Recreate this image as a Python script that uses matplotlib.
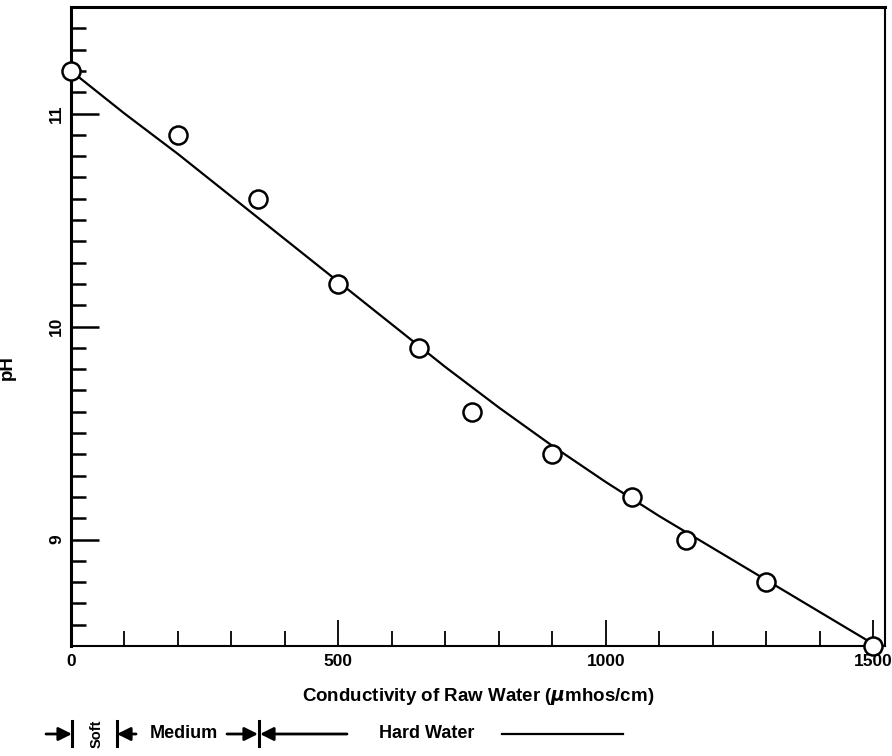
import matplotlib
matplotlib.use('Agg')
import matplotlib.pyplot as plt
import numpy as np

plt.rcParams['font.family'] = ['Liberation Sans', 'DejaVu Sans']
plt.rcParams['font.weight'] = 'bold'

# measured points: conductivity (umhos/cm) vs pH
cond = [0, 200, 350, 500, 650, 750, 900, 1050, 1150, 1300, 1500]
ph = [11.2, 10.9, 10.6, 10.2, 9.9, 9.6, 9.4, 9.2, 9.0, 8.8, 8.5]

# fitted curve
fit_cond = [0, 100, 200, 300, 400, 500, 600, 700, 800, 900, 1000, 1100, 1200, 1300, 1400, 1500]
fit_ph = [11.20, 11.00, 10.81, 10.61, 10.41, 10.21, 10.01, 9.81, 9.62, 9.44,
          9.27, 9.11, 8.96, 8.81, 8.66, 8.51]

x_major = [0, 500, 1000, 1500]
y_major = [9, 10, 11]

fig = plt.figure(figsize=(8.92, 7.56), dpi=100)
ax = fig.add_axes([0.0796, 0.1455, 0.9124, 0.8452])

ax.plot(fit_cond, fit_ph, color='black', lw=1.6, zorder=2, clip_on=False)
ax.plot(cond, ph, 'o', ms=13, mfc='white', mec='black', mew=1.8, zorder=3, clip_on=False)

ax.set_xlim(0, 1522)
ax.set_ylim(8.5, 11.5)
ax.set_xticks(x_major)
ax.set_xticks(np.arange(100, 1500, 100), minor=True)
ax.set_yticks(y_major)
ax.set_yticks(np.arange(8.6, 11.45, 0.1), minor=True)

ax.tick_params(which='both', direction='in', color='black')
ax.tick_params(axis='x', which='major', length=19, width=1.3, labelsize=12.5, pad=6)
ax.tick_params(axis='x', which='minor', length=11, width=1.3)
ax.tick_params(axis='y', which='major', length=20, width=1.8, labelsize=12.5, pad=5)
ax.tick_params(axis='y', which='minor', length=11, width=1.8)
for lab in ax.get_yticklabels():
    lab.set_rotation(90)
    lab.set_va('center')
for lab in ax.get_xticklabels() + ax.get_yticklabels():
    lab.set_fontweight('bold')

for side, w in [('left', 2.2), ('top', 2.2), ('bottom', 1.5), ('right', 1.5)]:
    ax.spines[side].set_linewidth(w)

ax.set_xlabel('Conductivity of Raw Water ($\\mu$mhos/cm)', fontsize=13.5, fontweight='bold')
ax.xaxis.set_label_coords(0.5, -0.062)
ax.set_ylabel('pH', fontsize=13.5, fontweight='bold')
ax.yaxis.set_label_coords(-0.068, 0.435)

# water hardness ranges below the axis, drawn in pixel space
ov = fig.add_axes([0, 0, 1, 1], facecolor='none')
ov.set_xlim(0, 892)
ov.set_ylim(756, 0)
ov.axis('off')
yb = 734
arrow = dict(arrowstyle='-|>,head_length=0.8,head_width=0.4', color='black', lw=2,
             shrinkA=0, shrinkB=0)


def bar(x):
    ov.plot([x, x], [721, 746], color='black', lw=2.2)


ov.annotate('', xy=(72, yb), xytext=(46, yb), arrowprops=arrow)
bar(72)
ov.text(97, yb, 'Soft', rotation=90, ha='center', va='center', fontsize=10.5, fontweight='bold')
bar(117)
ov.annotate('', xy=(117, yb), xytext=(136, yb), arrowprops=arrow)
ov.text(150, yb, 'Medium', ha='left', va='center', fontsize=13, fontweight='bold')
ov.annotate('', xy=(258, yb), xytext=(227, yb), arrowprops=arrow)
bar(259)
ov.annotate('', xy=(260, yb), xytext=(347, yb), arrowprops=arrow)
ov.text(427, yb, 'Hard Water', ha='center', va='center', fontsize=13, fontweight='bold')
ov.plot([502, 623], [yb, yb], color='black', lw=1.6)

fig.savefig('out.png', dpi=100)
